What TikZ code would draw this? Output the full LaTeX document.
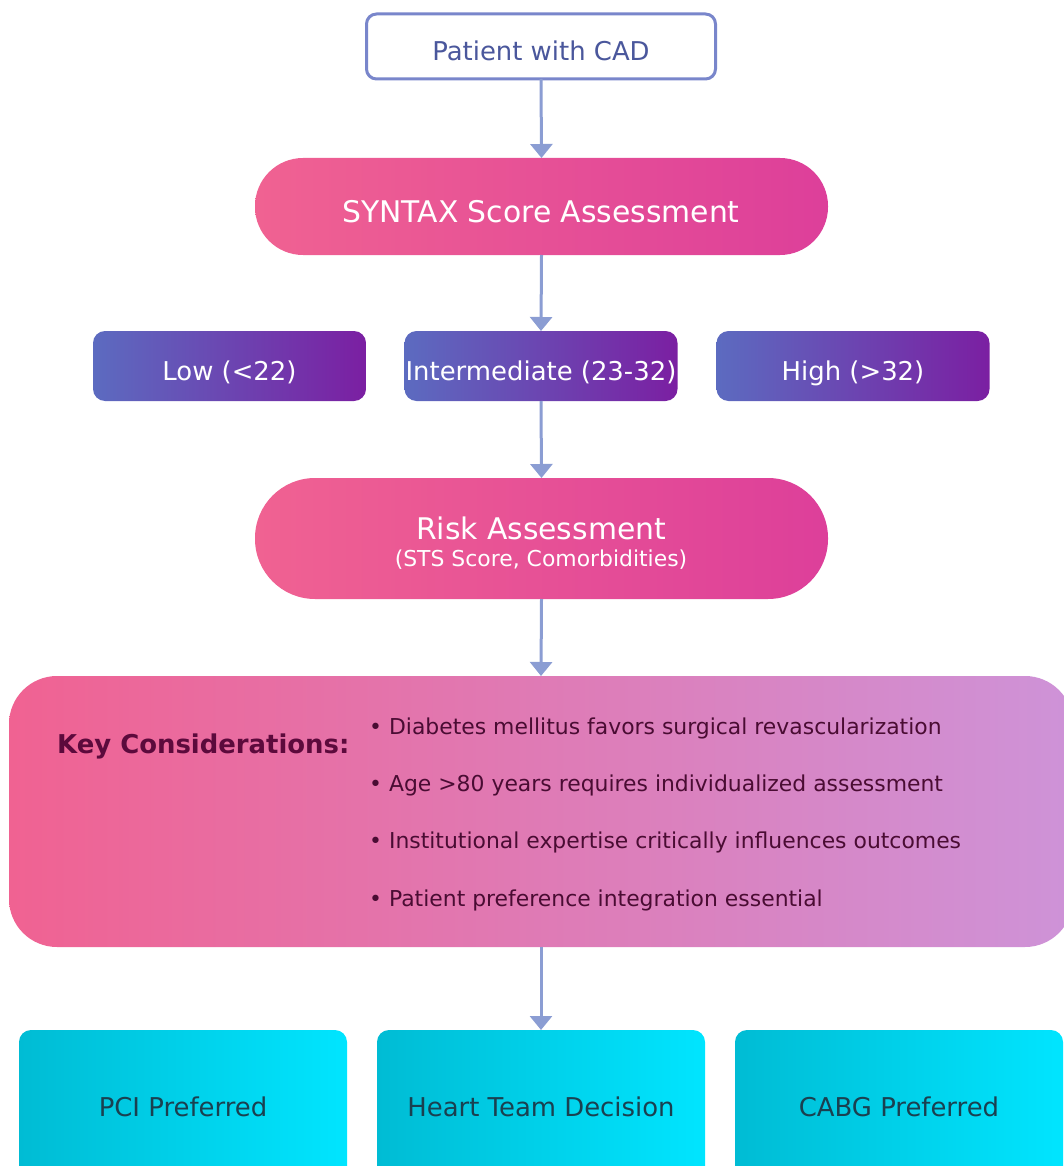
\documentclass[tikz,border=0pt]{standalone}
\usepackage{fontspec}
\setmainfont{DejaVu Sans}
\usetikzlibrary{arrows.meta}
\definecolor{arrowc}{HTML}{8B9DD3}
\definecolor{patborder}{HTML}{7986CB}
\definecolor{pattext}{HTML}{4A579C}
\definecolor{pinkL}{HTML}{F06292}
\definecolor{pinkR}{HTML}{DD3F9A}
\definecolor{tierL}{HTML}{5C6BC0}
\definecolor{tierR}{HTML}{7B1FA2}
\definecolor{keyR}{HTML}{CE93D8}
\definecolor{keytitle}{HTML}{5C0A3C}
\definecolor{keytext}{HTML}{4A0C33}
\definecolor{cyanL}{HTML}{00BCD4}
\definecolor{cyanR}{HTML}{00E5FF}
\definecolor{cyantext}{HTML}{1A4050}
\begin{document}
\begin{tikzpicture}[x=1pt,y=-1pt,
  box/.style={inner sep=0pt, outer sep=0pt},
  pinkbox/.style={box, left color=pinkL, right color=pinkR},
  tierbox/.style={box, rounded corners=12pt, minimum width=273pt, minimum height=70pt, left color=tierL, right color=tierR},
  cyanbox/.style={box, rounded corners=12pt, minimum width=328pt, minimum height=150pt, left color=cyanL, right color=cyanR},
  lbl/.style={anchor=base, inner sep=0pt},
  big/.style={font=\fontsize{29.8pt}{34pt}\selectfont},
  mid/.style={font=\fontsize{25.9pt}{30pt}\selectfont},
  small/.style={font=\fontsize{21.9pt}{26pt}\selectfont},
  flow/.style={draw=arrowc, line width=3pt, -{Triangle[width=22pt,length=14pt]}}
]
\useasboundingbox (0,0) rectangle (1064,1166);
\clip (0,0) rectangle (1064,1166);

% boxes
\node[box, draw=patborder, line width=3pt, fill=white, rounded corners=10pt, minimum width=349pt, minimum height=65pt] (pat) at (541,46.5) {};
\node[pinkbox, rounded corners=48pt, minimum width=573pt, minimum height=97pt] (syn) at (541.5,206.5) {};
\node[tierbox] (low) at (229.5,366) {};
\node[tierbox] (inter) at (541,366) {};
\node[tierbox] (high) at (853,366) {};
\node[pinkbox, rounded corners=60pt, minimum width=573pt, minimum height=121pt] (risk) at (541.5,538.5) {};
\node[box, left color=pinkL, right color=keyR, rounded corners=48pt, minimum width=1064pt, minimum height=271pt] (key) at (541,811.5) {};
\node[cyanbox] (pci) at (183,1105) {};
\node[cyanbox] (heart) at (541,1105) {};
\node[cyanbox] (cabg) at (899,1105) {};

% labels
\node[lbl, mid, text=pattext] (patlbl) at (541,61) {Patient with CAD};
\node[lbl, big, text=white] (synlbl) at (541,223) {SYNTAX Score Assessment};
\node[lbl, mid, text=white] (lowlbl) at (229.5,380) {Low (<22)};
\node[lbl, mid, text=white] (interlbl) at (541,380) {Intermediate (23-32)};
\node[lbl, mid, text=white] (highlbl) at (853,380) {High (>32)};
\node[lbl, big, text=white] (risklbl) at (541,539.5) {Risk Assessment};
\node[lbl, small, text=white] (risksub) at (541,566.7) {(STS Score, Comorbidities)};
\node[lbl, anchor=base west, mid, text=keytitle] (keytitle) at (57,753.3) {\bfseries Key Considerations:};
\node[lbl, anchor=base west, small, text=keytext] (b1) at (369,734.3) {• Diabetes mellitus favors surgical revascularization};
\node[lbl, anchor=base west, small, text=keytext] (b2) at (369,791.5) {• Age >80 years requires individualized assessment};
\node[lbl, anchor=base west, small, text=keytext] (b3) at (369,848.8) {• Institutional expertise critically influences outcomes};
\node[lbl, anchor=base west, small, text=keytext] (b4) at (369,906) {• Patient preference integration essential};
\node[lbl, mid, text=cyantext] (pcilbl) at (183,1116) {PCI Preferred};
\node[lbl, mid, text=cyantext] (heartlbl) at (541,1116) {Heart Team Decision};
\node[lbl, mid, text=cyantext] (cabglbl) at (899,1116) {CABG Preferred};

% connectors
\draw[flow] (pat.south) -- (syn.north);
\draw[flow] (syn.south) -- (inter.north);
\draw[flow] (inter.south) -- (risk.north);
\draw[flow] (risk.south) -- (key.north);
\draw[flow] (key.south) -- (heart.north);
\end{tikzpicture}
\end{document}
